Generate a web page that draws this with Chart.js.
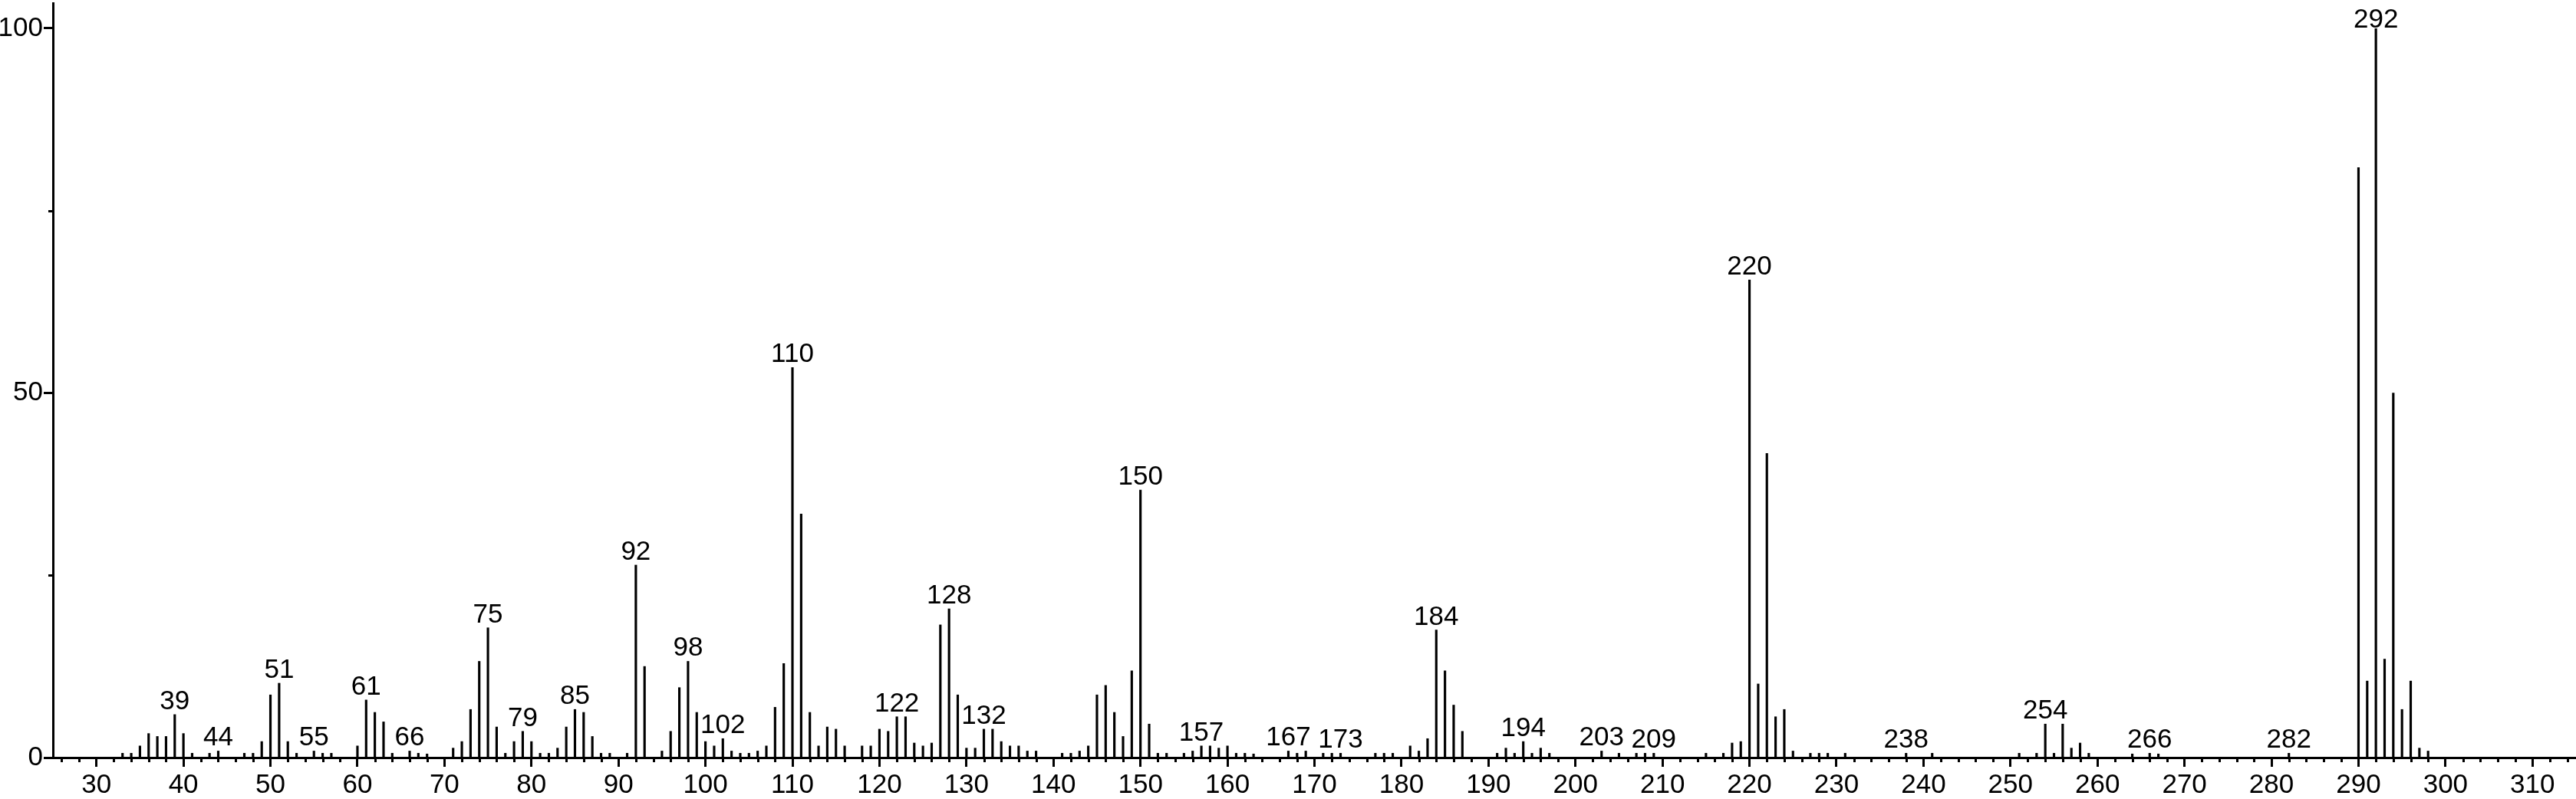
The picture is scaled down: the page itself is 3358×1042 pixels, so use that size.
<!DOCTYPE html>
<html>
<head>
<meta charset="utf-8">
<script src="https://cdn.jsdelivr.net/npm/chart.js@4.4.1/dist/chart.umd.min.js"></script>
<style>
  html, body { margin: 0; padding: 0; background: #fff; }
  #wrap { width: 3358px; height: 1042px; }
</style>
</head>
<body>
<div id="wrap"><canvas id="spectrum" width="3358" height="1042"></canvas></div>
<script>
// m/z values and relative intensities
const mz = [
  33, 34, 35, 36, 37, 38, 39, 40, 41, 43, 44, 47, 48, 49, 50, 51, 52, 53, 55, 56, 57,
  60, 61, 62, 63, 64, 66, 67, 68, 71, 72, 73, 74, 75, 76, 77, 78, 79, 80, 81, 82, 83,
  84, 85, 86, 87, 88, 89, 91, 92, 93, 95, 96, 97, 98, 99, 100, 101, 102, 103, 104, 105,
  106, 107, 108, 109, 110, 111, 112, 113, 114, 115, 116, 118, 119, 120, 121, 122, 123,
  124, 125, 126, 127, 128, 129, 130, 131, 132, 133, 134, 135, 136, 137, 138, 141, 142,
  143, 144, 145, 146, 147, 148, 149, 150, 151, 152, 153, 155, 156, 157, 158, 159, 160,
  161, 162, 163, 167, 168, 169, 171, 172, 173, 177, 178, 179, 181, 182, 183, 184, 185,
  186, 187, 191, 192, 193, 194, 195, 196, 197, 203, 205, 207, 208, 209, 215, 217, 218,
  219, 220, 221, 222, 223, 224, 225, 227, 228, 229, 231, 238, 241, 251, 253, 254, 255,
  256, 257, 258, 259, 264, 266, 267, 282, 290, 291, 292, 293, 294, 295, 296, 297, 298
];
const intensity = [
  0.6, 0.6, 1.6, 3.3, 2.9, 2.9, 5.9, 3.3, 0.6, 0.6, 0.9, 0.6, 0.6, 2.2, 8.6, 10.2, 2.2, 0.6, 0.9, 0.6, 0.6,
  1.6, 7.9, 6.2, 4.9, 0.6, 0.9, 0.6, 0.5, 1.3, 2.2, 6.6, 13.2, 17.8, 4.2, 0.6, 2.2, 3.6, 2.2, 0.6, 0.6, 1.3,
  4.2, 6.6, 6.2, 2.9, 0.6, 0.6, 0.6, 26.4, 12.5, 0.9, 3.6, 9.6, 13.2, 6.2, 2.2, 1.6, 2.6, 0.9, 0.6, 0.6,
  0.9, 1.6, 6.9, 12.9, 53.5, 33.4, 6.2, 1.6, 4.2, 3.9, 1.6, 1.6, 1.6, 3.9, 3.6, 5.6, 5.6,
  2.0, 1.6, 2.0, 18.2, 20.4, 8.6, 1.3, 1.3, 3.9, 3.9, 2.2, 1.6, 1.6, 0.9, 0.9, 0.6, 0.6,
  0.9, 1.6, 8.6, 9.9, 6.2, 2.9, 11.9, 36.7, 4.6, 0.6, 0.6, 0.6, 0.9, 1.6, 1.6, 1.3, 1.6,
  0.6, 0.6, 0.5, 0.9, 0.6, 0.9, 0.6, 0.6, 0.6, 0.6, 0.6, 0.6, 1.6, 0.9, 2.6, 17.5, 11.9,
  7.2, 3.6, 0.6, 1.3, 0.6, 2.2, 0.6, 1.3, 0.6, 0.9, 0.6, 0.6, 0.6, 0.6, 0.6, 0.6, 2.0,
  2.2, 65.5, 10.1, 41.7, 5.6, 6.6, 0.9, 0.6, 0.6, 0.6, 0.6, 0.6, 0.6, 0.6, 0.6, 4.6, 0.6,
  4.6, 1.3, 2.0, 0.6, 0.5, 0.6, 0.5, 0.6, 80.9, 10.5, 100, 13.5, 50, 6.6, 10.5, 1.3, 0.9
];
// peaks carrying an m/z label
const labelledPeaks = [39, 44, 51, 55, 61, 66, 75, 79, 85, 92, 98, 102, 110, 122, 128, 132,
  150, 157, 167, 173, 184, 194, 203, 209, 220, 238, 254, 266, 282, 292];

const xTicks = [30, 40, 50, 60, 70, 80, 90, 100, 110, 120, 130, 140, 150, 160, 170, 180, 190,
  200, 210, 220, 230, 240, 250, 260, 270, 280, 290, 300, 310];
const yTicks = [0, 50, 100];
const yMinorTicks = [25, 75];
const xMinorStep = 2;

const FONT = 'Liberation Sans, Arial, Helvetica, sans-serif';
const FONT_SIZE = 35;

const peakLabels = {
  id: 'peakLabels',
  afterDatasetsDraw(chart) {
    const ctx = chart.ctx;
    const meta = chart.getDatasetMeta(0);
    ctx.save();
    ctx.font = FONT_SIZE + 'px ' + FONT;
    ctx.textAlign = 'center';
    ctx.textBaseline = 'alphabetic';
    labelledPeaks.forEach(m => {
      const i = mz.indexOf(m);
      if (i < 0) return;
      const bar = meta.data[i];
      const base = Math.max(bar.y - 7, 36);
      const text = String(m);
      const w = ctx.measureText(text).width;
      ctx.fillStyle = '#fff';
      ctx.fillRect(bar.x - w / 2 - 1, base - 26, w + 2, 27);
      ctx.fillStyle = '#000';
      ctx.fillText(text, bar.x, base);
    });
    ctx.restore();
  }
};

const minorTicks = {
  id: 'minorTicks',
  afterDraw(chart) {
    const ctx = chart.ctx;
    const xs = chart.scales.x;
    const ys = chart.scales.y;
    const area = chart.chartArea;
    ctx.save();
    ctx.strokeStyle = '#000';
    ctx.lineWidth = 3;
    ctx.beginPath();
    for (let v = Math.ceil(xs.min / xMinorStep) * xMinorStep; v <= xs.max; v += xMinorStep) {
      if (v % 10 === 0) continue;
      const px = Math.round(xs.getPixelForValue(v)) + 0.5;
      ctx.moveTo(px, area.bottom);
      ctx.lineTo(px, area.bottom + 6);
    }
    yMinorTicks.forEach(v => {
      const py = Math.round(ys.getPixelForValue(v)) + 0.5;
      ctx.moveTo(area.left, py);
      ctx.lineTo(area.left - 6, py);
    });
    ctx.stroke();
    ctx.restore();
  }
};

new Chart(document.getElementById('spectrum'), {
  type: 'bar',
  data: {
    datasets: [{
      data: mz.map((m, i) => ({ x: m, y: intensity[i] })),
      backgroundColor: '#000',
      borderWidth: 0,
      barThickness: 2.5
    }]
  },
  options: {
    responsive: false,
    animation: false,
    devicePixelRatio: 1,
    layout: { padding: { top: 4, right: 0, bottom: 0, left: 0 } },
    plugins: {
      legend: { display: false },
      tooltip: { enabled: false }
    },
    scales: {
      x: {
        type: 'linear',
        offset: false,
        min: 25,
        max: 315,
        afterBuildTicks: (s) => { s.ticks = xTicks.map(v => ({ value: v })); },
        afterFit: (s) => {
          s.height = 54;
          s.paddingLeft = 0; s.paddingRight = 0; s.paddingTop = 0; s.paddingBottom = 0;
        },
        grid: {
          offset: false,
          drawOnChartArea: false,
          drawTicks: true,
          tickLength: 12,
          tickWidth: 3,
          tickColor: '#000'
        },
        border: { display: true, color: '#000', width: 3 },
        ticks: {
          color: '#000',
          font: { family: FONT, size: FONT_SIZE },
          padding: 3,
          maxRotation: 0,
          autoSkip: false
        }
      },
      y: {
        min: 0,
        max: 103.47,
        afterBuildTicks: (s) => { s.ticks = yTicks.map(v => ({ value: v })); },
        afterFit: (s) => {
          s.width = 69;
          s.paddingLeft = 0; s.paddingRight = 0; s.paddingTop = 0; s.paddingBottom = 0;
        },
        grid: {
          drawOnChartArea: false,
          drawTicks: true,
          tickLength: 12,
          tickWidth: 3,
          tickColor: '#000'
        },
        border: { display: true, color: '#000', width: 3 },
        ticks: {
          color: '#000',
          font: { family: FONT, size: FONT_SIZE },
          padding: 1,
          autoSkip: false
        }
      }
    }
  },
  plugins: [peakLabels, minorTicks]
});
</script>
</body>
</html>
